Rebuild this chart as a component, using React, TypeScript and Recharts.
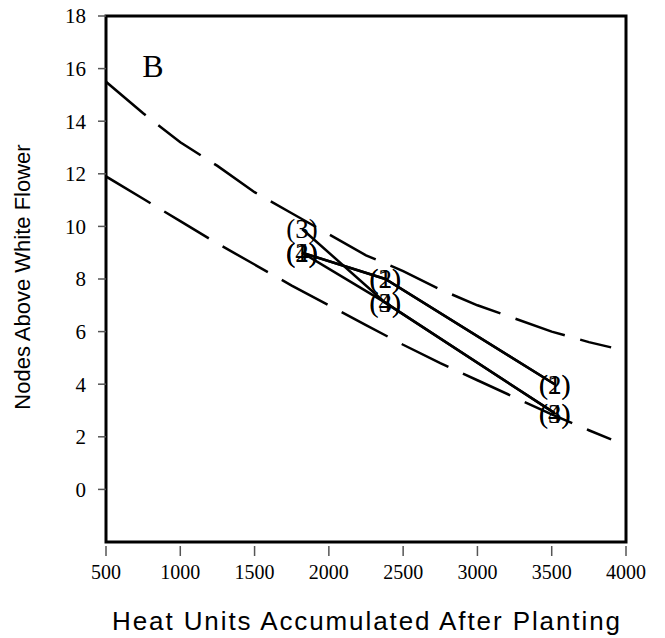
import { LineChart, Line, XAxis, YAxis, ReferenceArea, ReferenceDot } from 'recharts';

// heat units at the three sampling dates
const heatUnits = [1820, 2380, 3520];

// nodes above white flower for each numbered series
const series1 = [9.0, 8.0, 4.0];
const series2 = [9.0, 8.0, 4.0];
const series3 = [9.9, 7.1, 2.9];
const series4 = [9.0, 7.1, 2.9];

// dashed boundary curves
const curveX = [500, 750, 1000, 1250, 1500, 1750, 2000, 2250, 2500, 2750, 3000, 3250, 3500, 3750, 3900];
const upperY = [15.5, 14.3, 13.2, 12.3, 11.3, 10.5, 9.7, 8.9, 8.3, 7.6, 7.0, 6.5, 6.0, 5.6, 5.4];
const lowerY = [11.9, 11.05, 10.2, 9.35, 8.55, 7.75, 7.0, 6.25, 5.5, 4.8, 4.15, 3.5, 2.85, 2.25, 1.9];

const xTicks = [500, 1000, 1500, 2000, 2500, 3000, 3500, 4000];
const yTicks = [0, 2, 4, 6, 8, 10, 12, 14, 16, 18];

const serif = "'Liberation Serif', 'Times New Roman', serif";
const sans = "'Liberation Sans', Arial, sans-serif";

const toPoints = (xs: number[], ys: number[]) => xs.map((x, i) => ({ x, y: ys[i] }));

const seriesList = [
    { name: '1', values: series1 },
    { name: '2', values: series2 },
    { name: '3', values: series3 },
    { name: '4', values: series4 },
];

function XTick(props: any) {
    const { x, y, payload } = props;
    return (
        <g>
            <line x1={x} x2={x} y1={y + 4} y2={y + 14} stroke="#555" strokeWidth={1.5} />
            <text x={x} y={y + 37} textAnchor="middle" fontFamily={serif} fontSize={20} fill="#000">
                {payload.value}
            </text>
        </g>
    );
}

function YTick(props: any) {
    const { x, y, payload } = props;
    return (
        <g>
            <line x1={x - 8} x2={x} y1={y} y2={y} stroke="#555" strokeWidth={1.5} />
            <text x={x - 20} y={y} dy="0.35em" textAnchor="end" fontFamily={serif} fontSize={21} fill="#000">
                {payload.value}
            </text>
        </g>
    );
}

export default function App() {
    return (
        <div style={{ position: 'absolute', left: 0, top: 0, background: '#fff' }}>
            <LineChart width={665} height={638} margin={{ top: 16, right: 39, left: 0, bottom: 0 }}>
                <XAxis
                    type="number"
                    dataKey="x"
                    domain={[500, 4000]}
                    ticks={xTicks}
                    axisLine={false}
                    tickLine={false}
                    tickSize={0}
                    tickMargin={0}
                    tick={<XTick />}
                    height={96}
                    allowDataOverflow
                    label={{
                        content: (p: any) => (
                            <text
                                x={p.viewBox.x + p.viewBox.width / 2}
                                y={p.viewBox.y + 88}
                                textAnchor="middle"
                                fontFamily={sans}
                                fontSize={26}
                                textLength={508}
                                lengthAdjust="spacing"
                                fill="#000"
                            >
                                Heat Units Accumulated After Planting
                            </text>
                        ),
                    }}
                />
                <YAxis
                    type="number"
                    domain={[-2, 18]}
                    ticks={yTicks}
                    axisLine={false}
                    tickLine={false}
                    tickSize={0}
                    tickMargin={0}
                    tick={<YTick />}
                    width={106}
                    allowDataOverflow
                    label={{
                        content: (p: any) => {
                            const cx = 30;
                            const cy = p.viewBox.y + p.viewBox.height / 2 - 2;
                            return (
                                <text
                                    x={cx}
                                    y={cy}
                                    transform={`rotate(-90 ${cx} ${cy})`}
                                    textAnchor="middle"
                                    fontFamily={sans}
                                    fontSize={22}
                                    fill="#000"
                                >
                                    Nodes Above White Flower
                                </text>
                            );
                        },
                    }}
                />
                <ReferenceArea x1={500} x2={4000} y1={-2} y2={18} fill="none" stroke="#000" strokeWidth={3} />
                <ReferenceDot
                    x={816}
                    y={15.67}
                    shape={(p: any) => (
                        <text x={p.cx} y={p.cy} textAnchor="middle" fontFamily={serif} fontSize={32} fill="#000">
                            B
                        </text>
                    )}
                />
                <Line
                    data={toPoints(curveX, upperY)}
                    dataKey="y"
                    stroke="#000"
                    strokeWidth={2.5}
                    strokeDasharray="52 16"
                    dot={false}
                    isAnimationActive={false}
                />
                <Line
                    data={toPoints(curveX, lowerY)}
                    dataKey="y"
                    stroke="#000"
                    strokeWidth={2.5}
                    strokeDasharray="52 16"
                    dot={false}
                    isAnimationActive={false}
                />
                {seriesList.map((s) => (
                    <Line
                        key={s.name}
                        data={toPoints(heatUnits, s.values)}
                        dataKey="y"
                        stroke="#000"
                        strokeWidth={2.5}
                        isAnimationActive={false}
                        dot={(p: any) => (
                            <text
                                key={`${s.name}-${p.index}`}
                                x={p.cx}
                                y={p.cy}
                                dy="0.35em"
                                textAnchor="middle"
                                fontFamily={serif}
                                fontSize={27}
                                fill="#000"
                            >
                                ({s.name})
                            </text>
                        )}
                    />
                ))}
            </LineChart>
        </div>
    );
}
